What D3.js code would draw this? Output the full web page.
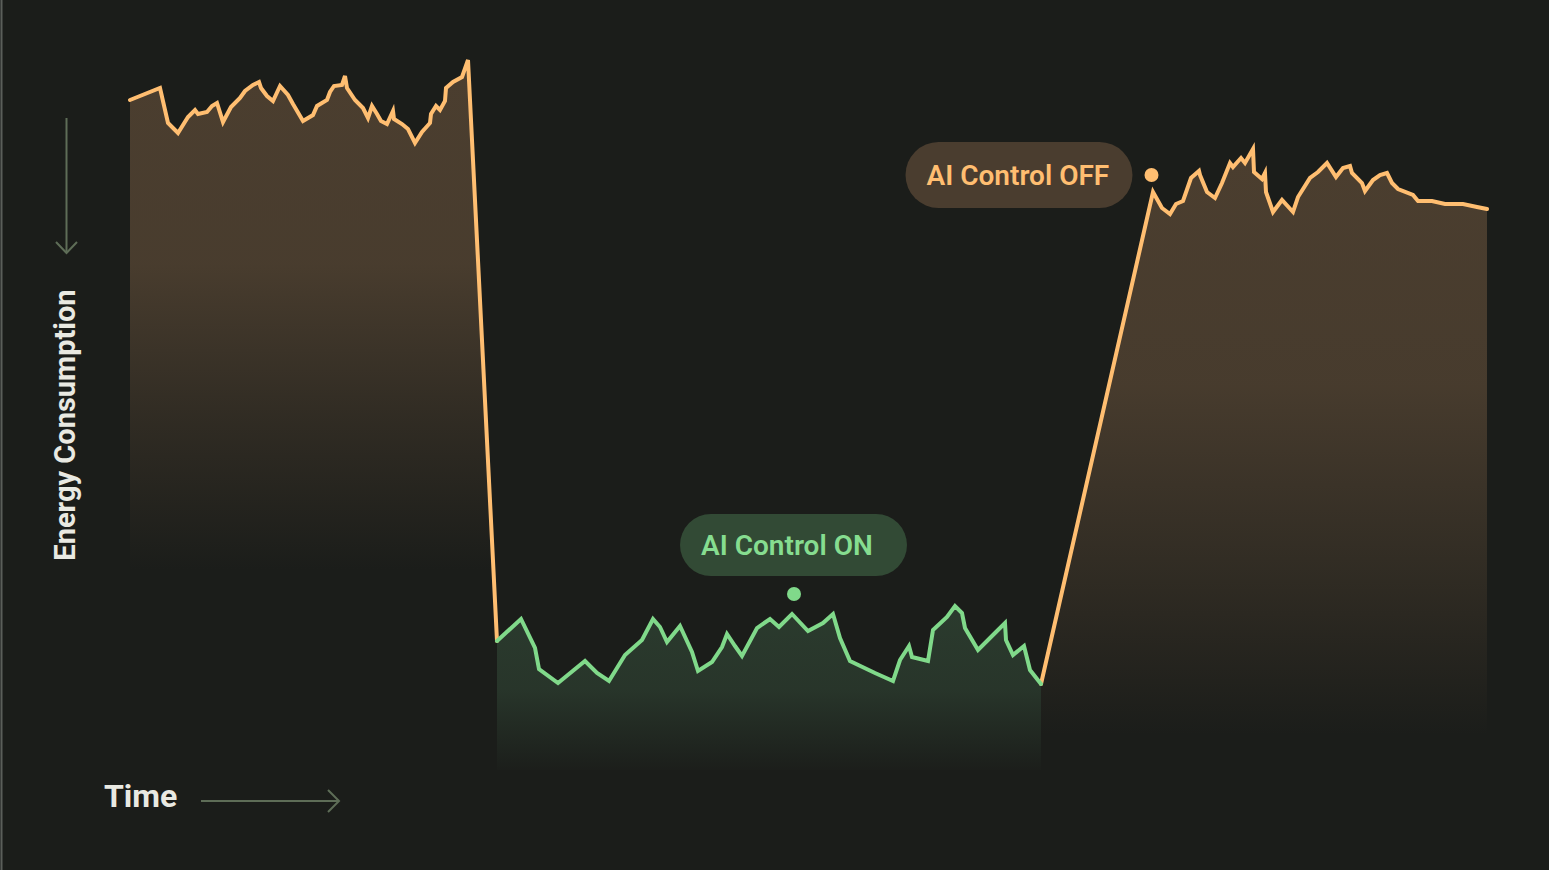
<!DOCTYPE html>
<html>
<head>
<meta charset="utf-8">
<script src="https://cdn.jsdelivr.net/npm/d3@7/dist/d3.min.js"></script>
<style>
  html, body { margin: 0; padding: 0; background: #1b1d1a; overflow: hidden; }
  svg { display: block; }
  text { font-family: Roboto, "Noto Sans", sans-serif; }
</style>
</head>
<body>
<svg id="chart" width="1549" height="870"></svg>
<script>
// ---- Data (time units, energy units) ----
const beforeTime = [0,30,38,48,58,65,68,77,82,87,93,101,110,115,123,129,131,137,143,150,158,163,173,183,187,197,200,204,212,215,217,225,233,238,242,247,251,257,263,264,272,278,285,292,300,301,306,310,315,316,323,332,338];
const beforeEnergy = [670,682,647,637,653,660,656,658,664,667,648,663,672,679,685,688,682,674,669,684,675,666,649,655,664,670,678,684,685,694,682,670,662,652,664,656,649,646,659,651,646,641,627,638,647,656,664,660,669,682,688,693,710];

const duringTime = [367,391,405,409,428,455,467,479,495,512,523,530,537,550,562,568,582,592,597,605,612,627,640,649,662,678,693,703,710,720,745,763,770,779,782,798,803,817,825,832,835,848,865,875,876,883,894,900,911];
const duringEnergy = [129,151,122,101,87,109,97,89,115,130,151,143,128,144,118,99,108,123,136,124,114,142,151,143,156,139,147,156,132,109,97,89,110,124,113,109,140,153,164,157,142,120,137,147,130,115,124,100,86];

const afterTime = [1023,1032,1040,1046,1053,1061,1069,1070,1077,1085,1092,1100,1103,1111,1115,1123,1124,1132,1135,1136,1143,1152,1163,1168,1180,1188,1197,1206,1213,1220,1222,1232,1235,1243,1250,1257,1262,1268,1283,1288,1302,1315,1333,1347,1357];
const afterEnergy = [578,562,556,566,569,592,599,595,578,572,587,607,603,612,607,621,598,591,597,578,558,570,558,573,592,598,607,593,602,604,597,587,579,590,595,597,587,581,575,569,569,566,566,563,561];

const annotationLabels = ["AI Control ON", "AI Control OFF"];
const annotationTime = [662, 1023];
const annotationEnergy = [156, 578];

const axisLabels = ["Energy Consumption", "Time"];

// ---- Setup ----
const svg = d3.select("#chart");
const W = 1549, H = 870;
const x = d3.scaleLinear().domain([0, 1357]).range([130, 1487]);
const y = d3.scaleLinear().domain([0, 710]).range([770, 60]);

const zip = (t, e) => t.map((v, i) => ({ t: v, e: e[i] }));
const before = zip(beforeTime, beforeEnergy);
const during = zip(duringTime, duringEnergy);
const after = zip(afterTime, afterEnergy);

const orange = "#ffbe71", green = "#80d98a";

svg.append("rect").attr("width", W).attr("height", H).attr("fill", "#1b1d1a");
svg.append("line").attr("x1", 1.5).attr("x2", 1.5).attr("y1", 0).attr("y2", H)
  .attr("stroke", "#5b5f5a").attr("stroke-width", 2);

const defs = svg.append("defs");
function grad(id, color, y1, y2, stops) {
  const g = defs.append("linearGradient").attr("id", id)
    .attr("gradientUnits", "userSpaceOnUse")
    .attr("x1", 0).attr("x2", 0).attr("y1", y1).attr("y2", y2);
  stops.forEach(s => g.append("stop").attr("offset", s[0]).attr("stop-color", color).attr("stop-opacity", s[1]));
}
grad("gLeft", "#4b3e2f", 60, 570, [[0, 1], [0.4, 0.95], [0.7, 0.45], [1, 0]]);
grad("gRight", "#4b3e2f", 150, 735, [[0, 1], [0.4, 0.92], [0.72, 0.45], [1, 0]]);
grad("gGreen", "#2b3b2e", 605, 775, [[0, 1], [0.5, 0.8], [1, 0]]);

const area = d3.area().x(d => x(d.t)).y0(y(0)).y1(d => y(d.e));
const line = d3.line().x(d => x(d.t)).y(d => y(d.e));

const leftSeg = before.concat([during[0]]);
const rightSeg = [during[during.length - 1]].concat(after);

svg.append("path").datum(leftSeg).attr("d", area).attr("fill", "url(#gLeft)");
svg.append("path").datum(rightSeg).attr("d", area).attr("fill", "url(#gRight)");
svg.append("path").datum(during).attr("d", area).attr("fill", "url(#gGreen)");

const lineStyle = p => p.attr("fill", "none").attr("stroke-width", 4)
  .attr("stroke-linejoin", "miter").attr("stroke-miterlimit", 4).attr("stroke-linecap", "round");
svg.append("path").datum(leftSeg).attr("d", line).attr("stroke", orange).call(lineStyle);
svg.append("path").datum(rightSeg).attr("d", line).attr("stroke", orange).call(lineStyle);
svg.append("path").datum(during).attr("d", line).attr("stroke", green).call(lineStyle);

// ---- Annotations ----
const pillW = 227, pillH = 62;
// ON: pill centred above the dot
{
  const px = x(annotationTime[0]), py = y(annotationEnergy[0]);
  const dx = px + 2, dy = py - 20;
  svg.append("circle").attr("cx", dx).attr("cy", dy).attr("r", 7).attr("fill", green);
  const bx = dx - 114, by = dy - 18 - pillH;
  svg.append("rect").attr("x", bx).attr("y", by).attr("width", pillW).attr("height", pillH)
    .attr("rx", pillH / 2).attr("fill", "#324a35");
  svg.append("text").attr("x", bx + 21).attr("y", by + 41).attr("font-size", 28)
    .attr("font-weight", 600).attr("fill", "#86dd90").text(annotationLabels[0]);
}
// OFF: pill to the left of the dot
{
  const px = x(annotationTime[1]), py = y(annotationEnergy[1]);
  const dx = px - 1.5, dy = py - 17;
  svg.append("circle").attr("cx", dx).attr("cy", dy).attr("r", 7).attr("fill", orange);
  const h = 66;
  const bx = dx - 19 - pillW, by = dy - h / 2;
  svg.append("rect").attr("x", bx).attr("y", by).attr("width", pillW).attr("height", h)
    .attr("rx", h / 2).attr("fill", "#4a3d2f");
  svg.append("text").attr("x", bx + 21).attr("y", by + 43).attr("font-size", 28)
    .attr("font-weight", 600).attr("fill", orange).text(annotationLabels[1]);
}

// ---- Axis labels ----
const axisCol = "#5e6d57";
svg.append("line").attr("x1", 66.5).attr("x2", 66.5).attr("y1", 118).attr("y2", 253)
  .attr("stroke", axisCol).attr("stroke-width", 2);
svg.append("path").attr("d", "M56,242 L66.5,253 L77,242").attr("fill", "none")
  .attr("stroke", axisCol).attr("stroke-width", 2);
svg.append("text").attr("transform", "translate(74.5,425) rotate(-90)")
  .attr("text-anchor", "middle").attr("font-size", 29).attr("font-weight", 700)
  .attr("fill", "#e9e9e2").text(axisLabels[0]);

svg.append("text").attr("x", 104).attr("y", 807).attr("font-size", 32).attr("font-weight", 700)
  .attr("fill", "#e9e9e2").text(axisLabels[1]);
svg.append("line").attr("x1", 201).attr("x2", 339).attr("y1", 801).attr("y2", 801)
  .attr("stroke", axisCol).attr("stroke-width", 2);
svg.append("path").attr("d", "M328,790 L339,801 L328,812").attr("fill", "none")
  .attr("stroke", axisCol).attr("stroke-width", 2);
</script>
</body>
</html>
